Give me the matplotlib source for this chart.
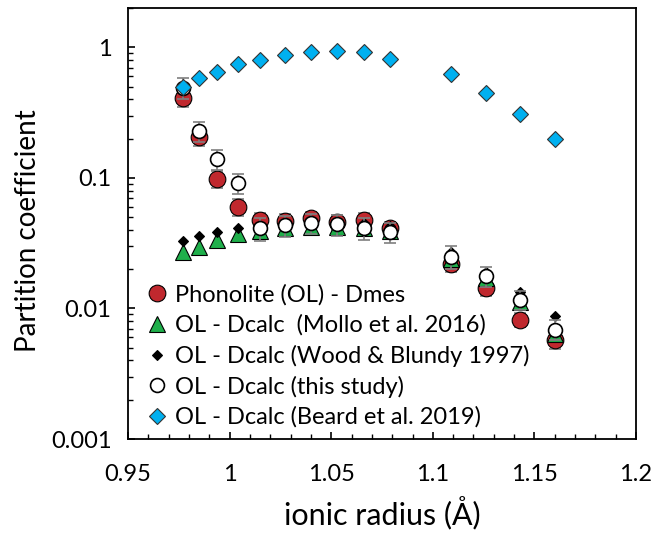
import matplotlib
matplotlib.use("Agg")
import matplotlib.pyplot as plt
from matplotlib.ticker import FixedLocator, LogLocator, NullFormatter, MultipleLocator

plt.rcParams['font.family'] = ['Lato', 'DejaVu Sans']

# ionic radius (A) of the REE, Lu -> La
radius = [0.977, 0.985, 0.994, 1.004, 1.015, 1.027, 1.040, 1.053, 1.066, 1.079, 1.109, 1.126, 1.143, 1.160]

d_mes = [0.41, 0.205, 0.099, 0.060, 0.048, 0.047, 0.049, 0.046, 0.048, 0.041, 0.022, 0.0144, 0.0082, 0.0057]
d_mes_err = [0.06, 0.03, 0.015, 0.009, 0.006, 0.006, 0.006, 0.006, 0.006, 0.005, 0.003, 0.002, 0.001, 0.0008]

d_mollo = [0.027, 0.0296, 0.0334, 0.037, 0.039, 0.041, 0.042, 0.042, 0.041, 0.039, 0.024, 0.017, 0.0112, 0.0064]
d_wb = [0.033, 0.036, 0.0385, 0.041, 0.043, 0.045, 0.046, 0.046, 0.045, 0.043, 0.027, 0.019, 0.0133, 0.0087]

d_this = [0.49, 0.23, 0.14, 0.091, 0.041, 0.0435, 0.045, 0.044, 0.0415, 0.0385, 0.025, 0.0177, 0.0117, 0.0069]
d_this_err = [0.09, 0.04, 0.025, 0.016, 0.008, 0.008, 0.008, 0.008, 0.008, 0.007, 0.005, 0.003, 0.002, 0.0012]

d_beard = [0.50, 0.58, 0.65, 0.74, 0.80, 0.87, 0.93, 0.94, 0.92, 0.82, 0.63, 0.45, 0.31, 0.20]

labels = ['Phonolite (OL) - Dmes',
          'OL - Dcalc  (Mollo et al. 2016)',
          'OL - Dcalc (Wood & Blundy 1997)',
          'OL - Dcalc (this study)',
          'OL - Dcalc (Beard et al. 2019)']

fig = plt.figure(figsize=(6.57, 5.4), dpi=100)
ax = fig.add_axes([0.195, 0.187, 0.773, 0.798])

ecol = '#7f7f7f'
ax.errorbar(radius, d_mes, yerr=d_mes_err, fmt='none', ecolor=ecol, elinewidth=1.2, capsize=4, capthick=1.2, zorder=2)
ax.plot(radius, d_mes, 'o', ms=12, mfc='#C0282E', mec='black', mew=0.8, ls='none', label=labels[0], zorder=3)
ax.plot(radius, d_mollo, '^', ms=12, mfc='#1FAF4B', mec='black', mew=0.8, ls='none', label=labels[1], zorder=4)
ax.plot(radius, d_wb, 'D', ms=5, mfc='black', mec='black', mew=0.8, ls='none', label=labels[2], zorder=5)
ax.errorbar(radius, d_this, yerr=d_this_err, fmt='none', ecolor=ecol, elinewidth=1.2, capsize=4, capthick=1.2, zorder=5.5)
ax.plot(radius, d_this, 'o', ms=10, mfc='white', mec='black', mew=1.2, ls='none', label=labels[3], zorder=6)
ax.plot(radius, d_beard, 'D', ms=8, mfc='#00B0F0', mec='#333333', mew=0.8, ls='none', label=labels[4], zorder=7)

ax.set_yscale('log')
ax.set_xlim(0.95, 1.2)
ax.set_ylim(0.001, 2)

ax.xaxis.set_minor_locator(MultipleLocator(0.01))
ax.set_xticks([0.95, 1.0, 1.05, 1.1, 1.15, 1.2])
ax.set_xticklabels(['0.95', '1', '1.05', '1.1', '1.15', '1.2'])
ax.yaxis.set_major_locator(FixedLocator([0.001, 0.01, 0.1, 1]))
ax.set_yticklabels(['0.001', '0.01', '0.1', '1'])
ax.yaxis.set_minor_locator(LogLocator(base=10, subs=[2, 3, 4, 5, 6, 7, 8, 9]))
ax.yaxis.set_minor_formatter(NullFormatter())

ax.tick_params(axis='both', which='major', direction='in', length=5, width=1.2, labelsize=17)
ax.tick_params(axis='x', which='major', pad=18)
ax.tick_params(axis='y', which='major', pad=12)
ax.tick_params(axis='both', which='minor', direction='in', length=3.5, width=1.0)
ax.tick_params(axis='x', which='both', top=False)
ax.tick_params(axis='y', which='both', right=False)

for s in ax.spines.values():
    s.set_linewidth(1.3)

ax.set_xlabel('ionic radius (Å)', fontsize=22, labelpad=8)
ax.set_ylabel('Partition coefficient', fontsize=20)
ax.yaxis.set_label_coords(-0.172, 0.483)

leg = ax.legend(loc='lower left', bbox_to_anchor=(0.018, 0.004), frameon=False, fontsize=17,
                handlelength=0.9, handletextpad=0.3, labelspacing=0.37, borderaxespad=0.0,
                numpoints=1)

fig.savefig('out.png', dpi=100)
